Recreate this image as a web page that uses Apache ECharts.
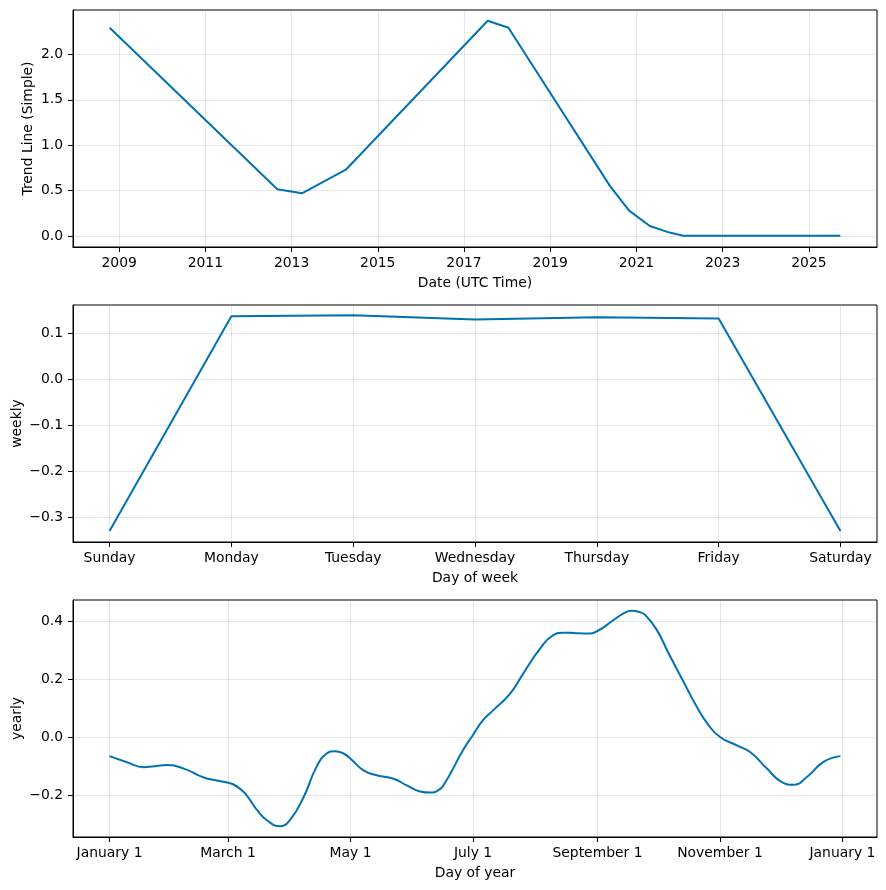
<!DOCTYPE html>
<html>
<head>
<meta charset="utf-8">
<script src="https://cdn.jsdelivr.net/npm/echarts@6/dist/echarts.min.js"></script>
<style>
html,body{margin:0;padding:0;background:#fff;}
#chart{width:886px;height:890px;}
</style>
</head>
<body>
<div id="chart"></div>
<script>
// ---- Panel 1: trend ----
const trendYears  = [2008.78, 2012.67, 2013.24, 2014.27, 2017.55, 2018.03, 2020.38, 2020.83, 2021.31, 2021.77, 2022.09, 2025.73];
const trendValues = [2.292, 0.516, 0.472, 0.736, 2.369, 2.292, 0.556, 0.281, 0.113, 0.040, 0.006, 0.006];
const trendXTicks = [2009, 2011, 2013, 2015, 2017, 2019, 2021, 2023, 2025];
const trendYTicks = [0, 0.5, 1.0, 1.5, 2.0];

// ---- Panel 2: weekly ----
const weekDays   = ['Sunday', 'Monday', 'Tuesday', 'Wednesday', 'Thursday', 'Friday', 'Saturday'];
const weeklyValues = [-0.330, 0.137, 0.139, 0.130, 0.135, 0.132, -0.330];
const weeklyYTicks = [-0.3, -0.2, -0.1, 0.0, 0.1];

// ---- Panel 3: yearly ----
const yearlyDays = [0, 8.7, 17, 21, 29, 37, 47, 53.5, 59, 61.8, 65, 68.4, 73, 79, 85, 90, 96.6, 103, 108, 112.4, 116.5, 120,
  126.5, 133, 141.4, 148, 154.7, 159.7, 164.7, 167.2, 169.7, 176, 181, 186, 191, 199.5, 206, 214.5, 221, 226, 231, 237.7,
  243, 251, 256, 260, 264, 266.8, 272.6, 278.4, 285.9, 292.5, 298.3, 304, 312.4, 319, 327.4, 334, 340.6, 347.3, 355.6, 364];
const yearlyValues = [-0.065, -0.086, -0.103, -0.101, -0.096, -0.108, -0.139, -0.149, -0.157, -0.163, -0.178, -0.201, -0.247, -0.290, -0.307, -0.284, -0.207, -0.103, -0.057, -0.048, -0.056, -0.074,
  -0.114, -0.131, -0.143, -0.166, -0.187, -0.191, -0.178, -0.155, -0.126, -0.045, 0.008, 0.059, 0.093, 0.151, 0.220, 0.307, 0.353, 0.361, 0.360, 0.358,
  0.367, 0.405, 0.428, 0.437, 0.432, 0.422, 0.370, 0.290, 0.191, 0.105, 0.042, 0.001, -0.028, -0.051, -0.108, -0.151, -0.164, -0.137, -0.085, -0.065];
const yearTickDays   = [0, 59, 120, 181, 243, 304, 365];
const yearTickLabels = ['January 1', 'March 1', 'May 1', 'July 1', 'September 1', 'November 1', 'January 1'];
const yearlyYTicks = [-0.2, 0.0, 0.2, 0.4];

const FONT = 'DejaVu Sans';
const LINE = '#0072B2';
const GRIDC = 'rgba(128,128,128,0.2)';
const fmt1 = v => (Math.round(v * 10) / 10).toFixed(1).replace('-', '\u2212');

function xAxisCfg(gridIndex, min, max, ticks, formatter, name) {
  return {
    type: 'value', gridIndex, min, max,
    name, nameLocation: 'middle', nameGap: 29, nameMoveOverlap: false,
    nameTextStyle: {fontFamily: FONT, fontSize: 13.9, color: '#000'},
    axisLine: {show: true, onZero: false, lineStyle: {color: '#000', width: 1}},
    axisTick: {show: true, inside: false, length: 5, lineStyle: {color: '#000', width: 1}, customValues: ticks},
    axisLabel: {show: true, margin: 9, fontFamily: FONT, fontSize: 13.9, color: '#000', customValues: ticks, formatter, hideOverlap: false},
    splitLine: {show: true, lineStyle: {color: GRIDC, width: 1}}
  };
}
function yAxisCfg(gridIndex, min, max, ticks, name, gap) {
  return {
    type: 'value', gridIndex, min, max,
    name, nameLocation: 'middle', nameGap: gap, nameRotate: 90, nameMoveOverlap: false,
    nameTextStyle: {fontFamily: FONT, fontSize: 13.9, color: '#000'},
    axisLine: {show: true, onZero: false, lineStyle: {color: '#000', width: 1}},
    axisTick: {show: true, inside: false, length: 5, lineStyle: {color: '#000', width: 1}, customValues: ticks},
    axisLabel: {show: true, margin: 10, fontFamily: FONT, fontSize: 13.9, color: '#000', customValues: ticks, formatter: fmt1},
    splitLine: {show: true, lineStyle: {color: GRIDC, width: 1}}
  };
}

const gridBase = {left: 73, right: 9, height: 237, show: true, borderColor: '#000', borderWidth: 1,
  backgroundColor: 'transparent', containLabel: false, outerBoundsMode: 'none'};

const chart = echarts.init(document.getElementById('chart'), null, {renderer: 'canvas'});
chart.setOption({
  animation: false,
  backgroundColor: '#fff',
  grid: [
    Object.assign({top: 10}, gridBase),
    Object.assign({top: 305}, gridBase),
    Object.assign({top: 600}, gridBase)
  ],
  xAxis: [
    xAxisCfg(0, 2007.93, 2026.58, trendXTicks, v => String(Math.round(v)), 'Date (UTC Time)'),
    xAxisCfg(1, -0.3, 6.3, weekDays.map((d, i) => i), v => weekDays[Math.round(v)], 'Day of week'),
    xAxisCfg(2, -18.2, 382.2, yearTickDays, v => yearTickLabels[yearTickDays.indexOf(Math.round(v))], 'Day of year')
  ],
  yAxis: [
    yAxisCfg(0, -0.1185, 2.487, trendYTicks, 'Trend Line (Simple)', 38),
    yAxisCfg(1, -0.3538, 0.1614, weeklyYTicks, 'weekly', 48.5),
    yAxisCfg(2, -0.3442, 0.474, yearlyYTicks, 'yearly', 48.5)
  ],
  series: [
    {type: 'line', xAxisIndex: 0, yAxisIndex: 0, showSymbol: false, lineStyle: {color: LINE, width: 2},
     data: trendYears.map((x, i) => [x, trendValues[i]])},
    {type: 'line', xAxisIndex: 1, yAxisIndex: 1, showSymbol: false, lineStyle: {color: LINE, width: 2},
     data: weeklyValues.map((v, i) => [i, v])},
    {type: 'line', xAxisIndex: 2, yAxisIndex: 2, showSymbol: false, smooth: 0.5, lineStyle: {color: LINE, width: 2},
     data: yearlyDays.map((d, i) => [d, yearlyValues[i]])}
  ]
});
</script>
</body>
</html>
